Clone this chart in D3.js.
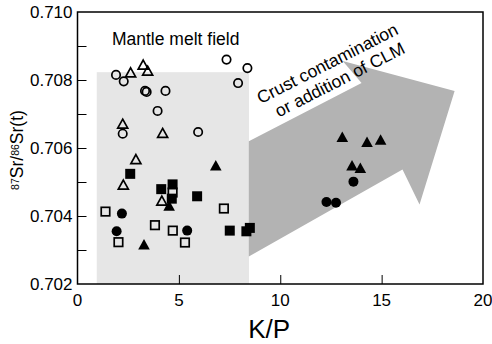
<!DOCTYPE html>
<html>
<head>
<meta charset="utf-8">
<script src="https://cdn.jsdelivr.net/npm/d3@7"></script>
<style>
  body { margin: 0; background: #fff; }
  svg { display: block; font-family: "Liberation Sans", Arial, sans-serif; }
</style>
</head>
<body>
<svg id="chart" width="492" height="344"></svg>
<script>
// ---- data (K/P vs 87Sr/86Sr(t)) ----
var openCircles = [
  [1.90, 0.70815], [2.28, 0.70796], [3.33, 0.70768], [3.41, 0.70765],
  [4.34, 0.70768], [3.95, 0.70709], [2.23, 0.70642], [7.35, 0.70860],
  [8.38, 0.70835], [7.92, 0.70791], [5.95, 0.70647]
];
var openTriangles = [
  [2.62, 0.70821], [3.24, 0.70844], [3.46, 0.70826], [2.23, 0.70670],
  [4.20, 0.70643], [2.88, 0.70566], [2.26, 0.70491], [4.16, 0.70444]
];
var filledSquares = [
  [2.60, 0.70524], [4.13, 0.70479], [4.69, 0.70493], [5.90, 0.70458],
  [7.51, 0.70357], [8.33, 0.70355], [8.50, 0.70365], [4.65, 0.70451]
];
var openSquares = [
  [1.38, 0.70413], [2.02, 0.70323], [3.82, 0.70373], [4.70, 0.70357],
  [7.22, 0.70422], [5.30, 0.70322], [4.69, 0.70469]
];
var filledCircles = [
  [2.19, 0.70407], [1.93, 0.70355], [5.41, 0.70357],
  [13.61, 0.70501], [12.28, 0.70441], [12.75, 0.70439]
];
var filledTriangles = [
  [3.28, 0.70315], [6.82, 0.70547], [4.52, 0.70429],
  [13.06, 0.70631], [14.28, 0.70616], [14.95, 0.70623],
  [13.54, 0.70547], [13.95, 0.70540]
];

// mantle melt field (x0, x1, y0, y1)
var mantleField = [0.95, 8.46, 0.702, 0.70823];
// arrow outline
var arrowPts = [
  [8.45, 0.70281], [8.45, 0.70620], [14.01, 0.70791], [13.08, 0.70856],
  [18.60, 0.70768], [16.87, 0.70434], [16.03, 0.70537]
];
var xTicks = [0, 5, 10, 15, 20];
var yTicks = [0.702, 0.704, 0.706, 0.708, 0.710];
var yMinorTicks = [0.703, 0.705, 0.707, 0.709];

var width = 492, height = 344;
var margin = {top: 12, right: 9, bottom: 60, left: 77.5};

var svg = d3.select('#chart');

var x = d3.scaleLinear().domain([0, 20]).range([margin.left, width - margin.right]);
var y = d3.scaleLinear().domain([0.702, 0.710]).range([height - margin.bottom, margin.top]);

// grey field
svg.append('rect')
  .attr('x', x(mantleField[0]))
  .attr('y', y(mantleField[3]))
  .attr('width', x(mantleField[1]) - x(mantleField[0]))
  .attr('height', y(mantleField[2]) - y(mantleField[3]))
  .attr('fill', '#e6e6e6');

// arrow
svg.append('path')
  .attr('d', d3.line().x(function(d){ return x(d[0]); }).y(function(d){ return y(d[1]); }).curve(d3.curveLinearClosed)(arrowPts))
  .attr('fill', '#b3b3b3');

// axes (inward ticks)
svg.append('g')
  .attr('transform', 'translate(0,' + (height - margin.bottom) + ')')
  .call(d3.axisBottom(x).tickValues(xTicks.slice(1, 4)).tickSize(-9).tickFormat(''))
  .call(function(g){ g.select('.domain').remove(); g.selectAll('line').attr('stroke', '#000').attr('stroke-width', 1); });

svg.append('g')
  .attr('transform', 'translate(' + margin.left + ',0)')
  .call(d3.axisLeft(y).tickValues(yMinorTicks.concat(yTicks.slice(1, 4))).tickSize(-9).tickFormat(''))
  .call(function(g){ g.select('.domain').remove(); g.selectAll('line').attr('stroke', '#000').attr('stroke-width', 1); });

// tick labels
svg.append('g').selectAll('text').data(xTicks).enter().append('text')
  .attr('x', function(d){ return x(d); })
  .attr('y', height - margin.bottom + 22)
  .attr('text-anchor', 'middle')
  .style('font-size', '17px')
  .text(function(d){ return d; });

svg.append('g').selectAll('text').data(yTicks).enter().append('text')
  .attr('x', margin.left - 5)
  .attr('y', function(d){ return y(d) + 6; })
  .attr('text-anchor', 'end')
  .style('font-size', '17px')
  .text(function(d){ return d3.format('.3f')(d); });

// axis titles
svg.append('text')
  .attr('x', x(9.45))
  .attr('y', height - 6)
  .attr('text-anchor', 'middle')
  .style('font-size', '26px')
  .text('K/P');

var yt = svg.append('text')
  .attr('transform', 'translate(23,' + (y(0.706) + 2) + ') rotate(-90)')
  .attr('text-anchor', 'middle')
  .style('font-size', '17.5px');
yt.append('tspan').attr('baseline-shift', '40%').style('font-size', '10.5px').text('87');
yt.append('tspan').text('Sr/');
yt.append('tspan').attr('baseline-shift', '40%').style('font-size', '10.5px').text('86');
yt.append('tspan').text('Sr(t)');

// markers
var pts = svg.append('g');
function circles(data, filled) {
  pts.selectAll(null).data(data).enter().append('circle')
    .attr('cx', function(d){ return x(d[0]); })
    .attr('cy', function(d){ return y(d[1]); })
    .attr('r', filled ? 5 : 4.2)
    .attr('fill', filled ? '#000' : 'none')
    .attr('stroke', '#000')
    .attr('stroke-width', filled ? 0 : 1.7);
}
function squares(data, filled) {
  var s = filled ? 10 : 8.5;
  pts.selectAll(null).data(data).enter().append('rect')
    .attr('x', function(d){ return x(d[0]) - s / 2; })
    .attr('y', function(d){ return y(d[1]) - s / 2; })
    .attr('width', s).attr('height', s)
    .attr('fill', filled ? '#000' : 'none')
    .attr('stroke', '#000')
    .attr('stroke-width', filled ? 0 : 1.7);
}
function triangles(data, filled) {
  var tri = filled ? 'M0,-6L5.8,4.5L-5.8,4.5Z' : 'M0,-5L5,4L-5,4Z';
  pts.selectAll(null).data(data).enter().append('path')
    .attr('transform', function(d){ return 'translate(' + x(d[0]) + ',' + y(d[1]) + ')'; })
    .attr('d', tri)
    .attr('fill', filled ? '#000' : 'none')
    .attr('stroke', '#000')
    .attr('stroke-width', filled ? 0 : 1.7)
    .attr('stroke-linejoin', 'miter');
}
squares(filledSquares, true);
squares(openSquares, false);
circles(openCircles, false);
circles(filledCircles, true);
triangles(openTriangles, false);
triangles(filledTriangles, true);

// frame
svg.append('rect')
  .attr('x', x(0)).attr('y', y(0.710))
  .attr('width', x(20) - x(0)).attr('height', y(0.702) - y(0.710))
  .attr('fill', 'none').attr('stroke', '#000').attr('stroke-width', 1.5);

// annotations
svg.append('text')
  .attr('x', x(1.7)).attr('y', y(0.70903))
  .style('font-size', '17.5px')
  .text('Mantle melt field');

var ax = x(9.04), ay = y(0.70729);
var ann = svg.append('text')
  .attr('transform', 'translate(' + ax + ',' + ay + ') rotate(-27)')
  .style('font-size', '17.5px');
ann.append('tspan').attr('x', 0).attr('y', 0).text('Crust contamination');
ann.append('tspan').attr('x', 10).attr('y', 20).text('or addition of CLM');
</script>
</body>
</html>
